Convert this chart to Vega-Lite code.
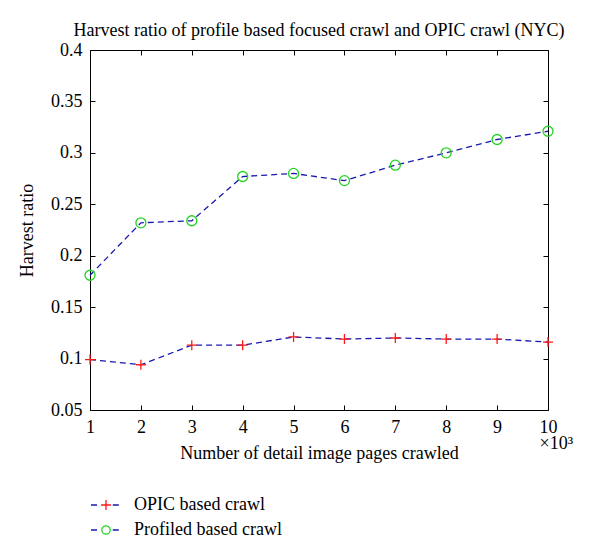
{
  "$schema": "https://vega.github.io/schema/vega-lite/v6.json",
  "width": 458,
  "height": 360,
  "autosize": "none",
  "padding": {"left": 90, "top": 50, "right": 52, "bottom": 143},
  "background": "white",
  "config": {
    "font": "Liberation Serif",
    "view": {"stroke": null},
    "axis": {
      "grid": false,
      "domainColor": "black",
      "domainWidth": 1,
      "tickColor": "black",
      "tickWidth": 1,
      "tickSize": -5,
      "labelFont": "Liberation Serif",
      "labelFontSize": 18,
      "labelColor": "black",
      "labelFlush": false,
      "titleFont": "Liberation Serif",
      "titleFontSize": 18,
      "titleFontWeight": "normal",
      "titleColor": "black"
    },
    "legend": {
      "labelFont": "Liberation Serif",
      "labelFontSize": 18,
      "labelColor": "black",
      "padding": 0
    }
  },
  "title": {
    "text": "Harvest ratio of profile based focused crawl and OPIC crawl (NYC)",
    "font": "Liberation Serif",
    "fontSize": 18,
    "fontWeight": "normal",
    "color": "black",
    "anchor": "middle",
    "offset": 1
  },
  "data": {
    "values": [
      {"x": 1, "ratio": 0.099, "series": "OPIC based crawl"},
      {"x": 2, "ratio": 0.094, "series": "OPIC based crawl"},
      {"x": 3, "ratio": 0.113, "series": "OPIC based crawl"},
      {"x": 4, "ratio": 0.113, "series": "OPIC based crawl"},
      {"x": 5, "ratio": 0.121, "series": "OPIC based crawl"},
      {"x": 6, "ratio": 0.119, "series": "OPIC based crawl"},
      {"x": 7, "ratio": 0.120, "series": "OPIC based crawl"},
      {"x": 8, "ratio": 0.119, "series": "OPIC based crawl"},
      {"x": 9, "ratio": 0.119, "series": "OPIC based crawl"},
      {"x": 10, "ratio": 0.116, "series": "OPIC based crawl"},
      {"x": 1, "ratio": 0.181, "series": "Profiled based crawl"},
      {"x": 2, "ratio": 0.232, "series": "Profiled based crawl"},
      {"x": 3, "ratio": 0.234, "series": "Profiled based crawl"},
      {"x": 4, "ratio": 0.277, "series": "Profiled based crawl"},
      {"x": 5, "ratio": 0.280, "series": "Profiled based crawl"},
      {"x": 6, "ratio": 0.273, "series": "Profiled based crawl"},
      {"x": 7, "ratio": 0.288, "series": "Profiled based crawl"},
      {"x": 8, "ratio": 0.300, "series": "Profiled based crawl"},
      {"x": 9, "ratio": 0.313, "series": "Profiled based crawl"},
      {"x": 10, "ratio": 0.321, "series": "Profiled based crawl"}
    ]
  },
  "layer": [
    {
      "transform": [{"filter": "datum.x > 0"}],
      "mark": {"type": "line", "color": "#1818b0", "strokeWidth": 1.3},
      "encoding": {
        "x": {
          "field": "x", "type": "quantitative",
          "scale": {"domain": [1, 10], "nice": false, "zero": false},
          "axis": {
            "orient": "bottom",
            "values": [1, 2, 3, 4, 5, 6, 7, 8, 9, 10],
            "format": "d",
            "labelExpr": "datum.value == 10 ? ['10', '×10³'] : datum.label",
            "labelAlign": {"condition": {"test": "datum.value == 10", "value": "left"}, "value": "center"},
            "labelOffset": {"condition": {"test": "datum.value == 10", "value": -9}, "value": 0},
            "labelLineHeight": 16,
            "labelPadding": 13,
            "title": "Number of detail image pages crawled",
            "titlePadding": -8
          }
        },
        "y": {
          "field": "ratio", "type": "quantitative",
          "scale": {"domain": [0.05, 0.4], "nice": false, "zero": false},
          "axis": {
            "orient": "left",
            "values": [0.05, 0.1, 0.15, 0.2, 0.25, 0.3, 0.35, 0.4],
            "format": ".2~f",
            "labelPadding": 13,
            "title": "Harvest ratio",
            "titlePadding": 14
          }
        },
        "strokeDash": {
          "field": "series", "type": "nominal",
          "scale": {"domain": ["Profiled based crawl", "OPIC based crawl"], "range": [[6, 4], [6, 4]]},
          "legend": {
            "orient": "none",
            "legendX": 0,
            "legendY": 439,
            "title": null,
            "symbolType": "M-1,0H-0.45M0.45,0H1",
            "symbolSize": 900,
            "symbolStrokeWidth": 1.3,
            "symbolStrokeColor": "#1818b0",
            "symbolDash": [1, 0],
            "labelOffset": 12,
            "labelColor": "transparent",
            "rowPadding": -14
          }
        }
      }
    },
    {
      "mark": {"type": "point", "filled": false, "size": 100, "strokeWidth": 1.3, "opacity": 1},
      "encoding": {
        "x": {
          "field": "x", "type": "quantitative",
          "axis": {"orient": "top", "values": [1, 2, 3, 4, 5, 6, 7, 8, 9, 10], "labels": false, "title": null}
        },
        "y": {
          "field": "ratio", "type": "quantitative",
          "axis": {"orient": "right", "values": [0.05, 0.1, 0.15, 0.2, 0.25, 0.3, 0.35, 0.4], "labels": false, "title": null}
        },
        "color": {
          "field": "series", "type": "nominal",
          "scale": {"domain": ["OPIC based crawl", "Profiled based crawl"], "range": ["#ff1a1a", "#22d422"]},
          "legend": null
        },
        "shape": {
          "field": "series", "type": "nominal",
          "scale": {"domain": ["OPIC based crawl", "Profiled based crawl"], "range": ["M-1,0H1M0,-1V1", "circle"]},
          "legend": null
        }
      }
    },
    {
      "mark": {"type": "point", "filled": false, "size": 100, "strokeWidth": 1.3, "opacity": 0},
      "encoding": {
        "x": {"field": "x", "type": "quantitative", "axis": null},
        "y": {"field": "ratio", "type": "quantitative", "axis": null},
        "color": {
          "field": "series", "type": "nominal",
          "scale": {"domain": ["OPIC based crawl", "Profiled based crawl"], "range": ["#ff1a1a", "#22d422"]},
          "legend": {
            "orient": "none",
            "legendX": 0,
            "legendY": 439,
            "title": null,
            "symbolSize": 900,
            "symbolOpacity": 1,
            "symbolStrokeWidth": 1.3,
            "labelOffset": 12,
            "rowPadding": -14
          }
        },
        "shape": {
          "field": "series", "type": "nominal",
          "scale": {"domain": ["OPIC based crawl", "Profiled based crawl"], "range": ["M-0.33,0H0.33M0,-0.33V0.33", "M0.28,0A0.28,0.28,0,1,1,-0.28,0A0.28,0.28,0,1,1,0.28,0"]},
          "legend": {
            "orient": "none",
            "legendX": 0,
            "legendY": 439,
            "title": null,
            "symbolSize": 900,
            "symbolOpacity": 1,
            "symbolStrokeWidth": 1.3,
            "labelOffset": 12,
            "rowPadding": -14
          }
        }
      }
    }
  ],
  "resolve": {
    "axis": {"x": "independent", "y": "independent"},
    "scale": {"color": "independent", "shape": "independent"}
  }
}
